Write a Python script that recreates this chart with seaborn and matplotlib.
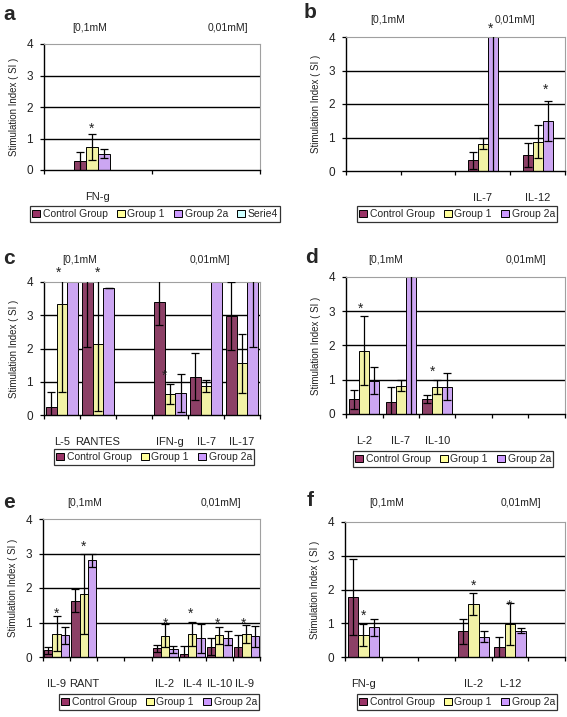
import numpy as np
import pandas as pd
import matplotlib
matplotlib.use("Agg")
import matplotlib.pyplot as plt
from matplotlib.patches import Patch
import seaborn as sns

sns.set_theme(style="white")
plt.rcParams['font.family'] = ['Liberation Sans', 'DejaVu Sans']

groups = ["Control Group", "Group 1", "Group 2a"]
colors = {"Control Group": "#993366", "Group 1": "#FFFF99",
          "Group 2a": "#CC99FF", "Serie4": "#CCFFFF"}

# values > 4 are off the scale in the original (bars clipped at the top)
# panel a
a_order = ["FN-g", " "]
a_cats = ["FN-g"]
a_ctrl, a_ctrl_err = [0.27], [0.30]
a_g1, a_g1_err = [0.73], [0.40]
a_g2a, a_g2a_err = [0.52], [0.14]
a_stars = [("FN-g", 1, 1.45)]

# panel b
b_order = [" ", "  ", "IL-7", "IL-12"]
b_cats = ["IL-7", "IL-12"]
b_ctrl, b_ctrl_err = [0.32, 0.48], [0.25, 0.37]
b_g1, b_g1_err = [0.82, 0.88], [0.16, 0.50]
b_g2a, b_g2a_err = [6.0, 1.50], [6.5, 0.60]
b_stars = [("IL-7", 1.8, 4.36), ("IL-12", 1.8, 2.54)]

# panel c
c_order = ["L-5", "RANTES", " ", "IFN-g", "IL-7", "IL-17"]
c_cats = ["L-5", "RANTES", "IFN-g", "IL-7", "IL-17"]
c_ctrl, c_ctrl_err = [0.25, 6.0, 3.40, 1.15, 2.97], [0.45, 3.95, 0.70, 0.70, 1.03]
c_g1, c_g1_err = [3.35, 2.13, 0.62, 0.88, 1.55], [2.65, 2.0, 0.30, 0.18, 0.88]
c_g2a, c_g2a_err = [6.0, 3.83, 0.67, 6.0, 6.0], [0.0, 0.0, 0.57, 0.0, 3.95]
c_stars = [("L-5", 0.7, 4.39), ("RANTES", 1.0, 4.39), ("IFN-g", 0.5, 1.29)]

# panel d
d_order = ["L-2", "IL-7", "IL-10", " ", "  ", "   "]
d_cats = ["L-2", "IL-7", "IL-10"]
d_ctrl, d_ctrl_err = [0.43, 0.35, 0.43], [0.28, 0.45, 0.12]
d_g1, d_g1_err = [1.85, 0.83, 0.78], [1.0, 0.17, 0.20]
d_g2a, d_g2a_err = [0.97, 6.0, 0.80], [0.40, 6.5, 0.40]
d_stars = [("L-2", 0.6, 3.18), ("IL-10", 0.5, 1.34)]

# panel e
e_order = ["IL-9", "RANT", " ", "  ", "IL-2", "IL-4", "IL-10", "IL-9 "]
e_cats = ["IL-9", "RANT", "IL-2", "IL-4", "IL-10", "IL-9 "]
e_ctrl, e_ctrl_err = [0.20, 1.63, 0.25, 0.10, 0.30, 0.30], [0.10, 0.33, 0.10, 0.22, 0.25, 0.33]
e_g1, e_g1_err = [0.68, 1.83, 0.62, 0.67, 0.63, 0.67], [0.50, 1.15, 0.33, 0.35, 0.25, 0.27]
e_g2a, e_g2a_err = [0.63, 2.80, 0.22, 0.55, 0.55, 0.60], [0.25, 0.18, 0.10, 0.42, 0.20, 0.30]
e_stars = [("IL-9", 1, 1.36), ("RANT", 1, 3.33), ("IL-2", 1, 1.07),
           ("IL-4", 0.8, 1.36), ("IL-10", 0.8, 1.07), ("IL-9 ", 0.7, 1.07)]

# panel f
f_order = ["FN-g", " ", "  ", "IL-2", "L-12", "   "]
f_cats = ["FN-g", "IL-2", "L-12"]
f_ctrl, f_ctrl_err = [1.78, 0.77, 0.30], [1.12, 0.37, 0.30]
f_g1, f_g1_err = [0.65, 1.58, 0.97], [0.32, 0.33, 0.62]
f_g2a, f_g2a_err = [0.88, 0.60, 0.78], [0.25, 0.17, 0.08]
f_stars = [("FN-g", 1, 1.33), ("IL-2", 1, 2.22), ("L-12", 1, 1.63)]

W, H = 567, 717
fig = plt.figure(figsize=(W / 100, H / 100), dpi=100)


def draw_panel(box, letter, letter_xy, order, cats, vals, errs, stars, width,
               hue_levels, top_x, top_dy, legend_c):
    L, R, T, B = box
    ax = fig.add_axes([L / W, 1 - B / H, (R - L) / W, (B - T) / H])
    rows = []
    for g, v, e in zip(groups, vals, errs):
        for c, vv, ee in zip(cats, v, e):
            rows.append({"cytokine": c, "group": g, "SI": vv, "err": ee})
    df = pd.DataFrame(rows)
    sns.barplot(data=df, x="cytokine", y="SI", hue="group", order=order,
                hue_order=hue_levels, palette=colors, width=width,
                edgecolor="black", linewidth=0.7, errorbar=None,
                legend=False, ax=ax, zorder=2)
    n = len(hue_levels)
    # error bars on top of each bar
    for i, g in enumerate(groups):
        sub = df[df.group == g]
        xs = [order.index(c) + (i - (n - 1) / 2) * width / n for c in sub.cytokine]
        ax.errorbar(xs, sub.SI, yerr=sub.err, fmt="none", ecolor="black",
                    elinewidth=0.9, capsize=3, capthick=0.9, zorder=3)
    # significance stars (the "*" glyph sits high in its box, so nudge down)
    for c, hp, y in stars:
        x = order.index(c) + (hp - (n - 1) / 2) * width / n
        ax.annotate("*", (x, y), xytext=(0, -3), textcoords="offset points",
                    ha="center", va="center", fontsize=10,
                    annotation_clip=False, zorder=4, color="#222222")

    for y in [1, 2, 3]:
        ax.axhline(y, color="black", lw=1.0, zorder=1)
    ax.set_ylim(0, 4)
    ax.set_yticks([0, 1, 2, 3, 4])
    ax.set_xlim(-0.5, len(order) - 0.5)
    ax.set_xticks(np.arange(len(order) + 1) - 0.5)
    ax.set_xticklabels([])
    ax.set_xticks(np.arange(len(order)), minor=True)
    ax.set_xticklabels(order, minor=True)
    ax.tick_params(axis="x", which="minor", length=0, pad=16, labelsize=8,
                   labelcolor="#222222")
    ax.tick_params(axis="x", which="major", length=3, width=0.9,
                   direction="out", color="black", bottom=True)
    ax.tick_params(axis="y", length=3, width=0.9, direction="out",
                   color="black", left=True, labelsize=8.5, pad=5,
                   labelcolor="#222222")
    ax.set_xlabel("")
    ax.set_ylabel("Stimulation Index ( SI )", fontsize=7, labelpad=5,
                  color="#222222")
    for s in ["left", "bottom"]:
        ax.spines[s].set_color("black")
        ax.spines[s].set_linewidth(1.0)
    for s in ["top", "right"]:
        ax.spines[s].set_color("#A0A0A0")
        ax.spines[s].set_linewidth(0.8)

    dy = top_dy / (B - T)
    ax.text(top_x[0], 1 + dy, "[0,1mM", transform=ax.transAxes, ha="center",
            va="center", fontsize=7.5, color="#222222")
    ax.text(top_x[1], 1 + dy, "0,01mM]", transform=ax.transAxes, ha="center",
            va="center", fontsize=7.5, color="#222222")
    fig.text(letter_xy[0] / W, 1 - letter_xy[1] / H, letter, fontsize=15,
             weight="bold", ha="left", va="center")

    handles = [Patch(facecolor=colors[h], edgecolor="black", lw=0.7)
               for h in hue_levels]
    leg = fig.legend(handles, hue_levels, loc="center",
                     bbox_to_anchor=(legend_c[0] / W, 1 - legend_c[1] / H),
                     ncol=len(hue_levels), fontsize=7.5, frameon=True,
                     fancybox=False, edgecolor="black", handlelength=0.75,
                     handleheight=0.75, handletextpad=0.25, columnspacing=0.9,
                     borderpad=0.25, borderaxespad=0)
    leg.get_frame().set_linewidth(0.9)
    return ax


draw_panel((44, 260, 44, 170), "a", (3, 15), a_order, a_cats,
           [a_ctrl, a_g1, a_g2a], [a_ctrl_err, a_g1_err, a_g2a_err], a_stars,
           0.45, groups + ["Serie4"], (0.21, 0.85), 16, (155, 214))
draw_panel((346, 565, 37, 171), "b", (304, 12), b_order, b_cats,
           [b_ctrl, b_g1, b_g2a], [b_ctrl_err, b_g1_err, b_g2a_err], b_stars,
           0.55, groups, (0.19, 0.77), 17, (457, 214))
draw_panel((44, 260, 282, 415), "c", (3, 259), c_order, c_cats,
           [c_ctrl, c_g1, c_g2a], [c_ctrl_err, c_g1_err, c_g2a_err], c_stars,
           0.88, groups, (0.165, 0.77), 22, (154, 457))
draw_panel((346, 565, 277, 414), "d", (305, 258), d_order, d_cats,
           [d_ctrl, d_g1, d_g2a], [d_ctrl_err, d_g1_err, d_g2a_err], d_stars,
           0.82, groups, (0.18, 0.82), 17, (453, 459))
draw_panel((43, 260, 519, 657), "e", (3, 502), e_order, e_cats,
           [e_ctrl, e_g1, e_g2a], [e_ctrl_err, e_g1_err, e_g2a_err], e_stars,
           0.92, groups, (0.19, 0.82), 16, (159, 702))
draw_panel((345, 565, 522, 657), "f", (307, 500), f_order, f_cats,
           [f_ctrl, f_g1, f_g2a], [f_ctrl_err, f_g1_err, f_g2a_err], f_stars,
           0.86, groups, (0.19, 0.80), 19, (457, 702))

fig.savefig("out.png", dpi=100)
